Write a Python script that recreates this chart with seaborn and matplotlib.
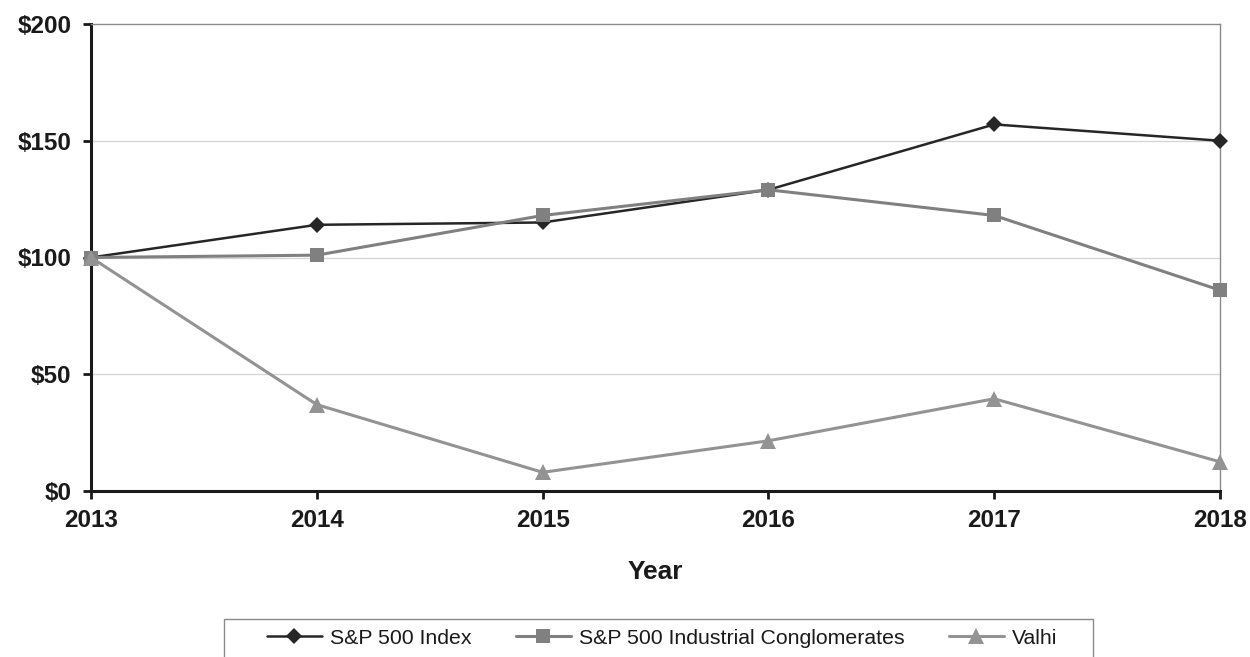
import matplotlib
matplotlib.use("Agg")
import matplotlib.pyplot as plt
import seaborn as sns
import pandas as pd
from matplotlib.patches import Rectangle

years = [2013, 2014, 2015, 2016, 2017, 2018]
sp500 = [100, 114, 115, 129, 157, 150]
conglomerates = [100, 101, 118, 129, 118, 86]
valhi = [100, 37, 8, 21.5, 39.5, 12.5]
series_names = ["S&P 500 Index", "S&P 500 Industrial Conglomerates", "Valhi"]
y_ticks = [0, 50, 100, 150, 200]
y_tick_labels = ["$0", "$50", "$100", "$150", "$200"]

sns.set_theme(style="white")
plt.rcParams['font.family'] = ['Liberation Sans', 'DejaVu Sans']

fig = plt.figure(figsize=(12.5, 6.57), dpi=100)
ax = fig.add_axes([91/1250, 1-491/657, (1220-91)/1250, (491-24)/657])

styles = [
    dict(color="#262626", marker="D", markersize=8, linewidth=1.8),
    dict(color="#808080", marker="s", markersize=10, linewidth=2.2),
    dict(color="#939393", marker="^", markersize=11, linewidth=2.2),
]
for name, vals, st in zip(series_names, [sp500, conglomerates, valhi], styles):
    df = pd.DataFrame({"Year": years, "Value": vals})
    sns.lineplot(data=df, x="Year", y="Value", ax=ax, label=name,
                 color=st["color"], marker=st["marker"], markersize=st["markersize"],
                 markeredgecolor=st["color"], markeredgewidth=0, linewidth=st["linewidth"],
                 clip_on=False, zorder=3)

ax.set_xlim(2013, 2018)
ax.set_ylim(0, 200)
ax.set_xticks(years)
ax.set_xticklabels([str(y) for y in years])
ax.set_yticks(y_ticks)
ax.set_yticklabels(y_tick_labels)

for v in [50, 100, 150]:
    ax.axhline(v, color="#d4d4d4", linewidth=0.9, zorder=1)

for s in ["left", "bottom"]:
    ax.spines[s].set_color("#1a1a1a")
    ax.spines[s].set_linewidth(2.2)
for s in ["top", "right"]:
    ax.spines[s].set_color("#8a8a8a")
    ax.spines[s].set_linewidth(1.0)
    ax.spines[s].set_visible(True)

ax.tick_params(axis="both", which="major", direction="out", length=6, width=2,
               color="#1a1a1a", labelsize=17.5, labelcolor="#1a1a1a")
ax.tick_params(axis="y", pad=8, left=True)
ax.tick_params(axis="x", pad=7, bottom=True)
for lbl in ax.get_xticklabels() + ax.get_yticklabels():
    lbl.set_fontweight("bold")

ax.set_xlabel("Year", fontsize=19, fontweight="bold", color="#1a1a1a", labelpad=20)
ax.set_ylabel("")

handles, labels = ax.get_legend_handles_labels()
if ax.get_legend():
    ax.get_legend().remove()
leg = fig.legend(handles, labels, loc="center", bbox_to_anchor=(662/1250, 1-638/657),
                 ncol=3, frameon=False, fontsize=15.3, handlelength=2.6,
                 handletextpad=0.38, columnspacing=2.07)
for t in leg.get_texts():
    t.set_color("#1a1a1a")

fig.patches.append(Rectangle((224/1250, -0.05), (1093-224)/1250, 1-619/657+0.05,
                             transform=fig.transFigure, fill=False,
                             edgecolor="#8a8a8a", linewidth=1.0))

fig.savefig("out.png", dpi=100)
